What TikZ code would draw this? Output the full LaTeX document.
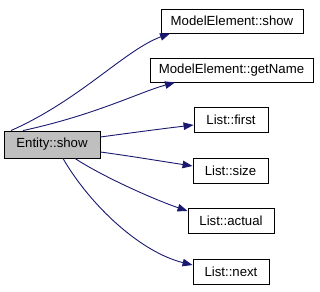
\documentclass[tikz,border=0pt]{standalone}
\usepackage{fontspec}
\setmainfont{Liberation Sans}
\usetikzlibrary{arrows.meta}
\definecolor{edgeblue}{HTML}{191970}
\definecolor{focusgray}{HTML}{BFBFBF}
\begin{document}
\begin{tikzpicture}[x=1pt,y=-1pt,
  fn/.style={draw=black, line width=0.9pt, fill=white, inner sep=0pt,
    minimum height=25pt, font=\fontsize{13.2}{15}\selectfont},
  focus/.style={fn, fill=focusgray},
  call/.style={draw=edgeblue, line width=0.9pt,
    -{Triangle[length=10pt,width=7.5pt]}, edgeblue}]
\useasboundingbox (0,0) rectangle (320,291);

% functions
\node[focus, minimum width=96pt, minimum height=27pt] (ent) at (52,144.5) {Entity::show};
\node[fn, minimum width=142pt, minimum height=24pt] (ms) at (232,21) {ModelElement::show};
\node[fn, minimum width=163pt, minimum height=24pt] (gn) at (231.5,70) {ModelElement::getName};
\node[fn, minimum width=74pt] (fi) at (231,119.5) {List::first};
\node[fn, minimum width=75pt] (sz) at (230.5,170.5) {List::size};
\node[fn, minimum width=86pt] (ac) at (231,221) {List::actual};
\node[fn, minimum width=76pt] (nx) at (231,271.5) {List::next};

% calls
\draw[call] ([xshift=-41pt]ent.north) .. controls (80,100) and (125,50) .. ([xshift=-62pt]ms.south);
\draw[call] ([xshift=-29pt]ent.north) .. controls (95,115) and (140,92) .. ([xshift=-56.5pt]gn.south);
\draw[call] ([yshift=7.5pt]ent.east) .. controls (130,133) and (160,129) .. ([yshift=-5.5pt]fi.west);
\draw[call] ([yshift=-7.5pt]ent.east) .. controls (130,156) and (160,161) .. ([yshift=4.5pt]sz.west);
\draw[call] ([xshift=23pt]ent.south) .. controls (100,175) and (150,198) .. ([yshift=10pt]ac.west);
\draw[call] ([xshift=11pt]ent.south) .. controls (90,205) and (140,252) .. ([yshift=6.5pt]nx.west);
\end{tikzpicture}
\end{document}
